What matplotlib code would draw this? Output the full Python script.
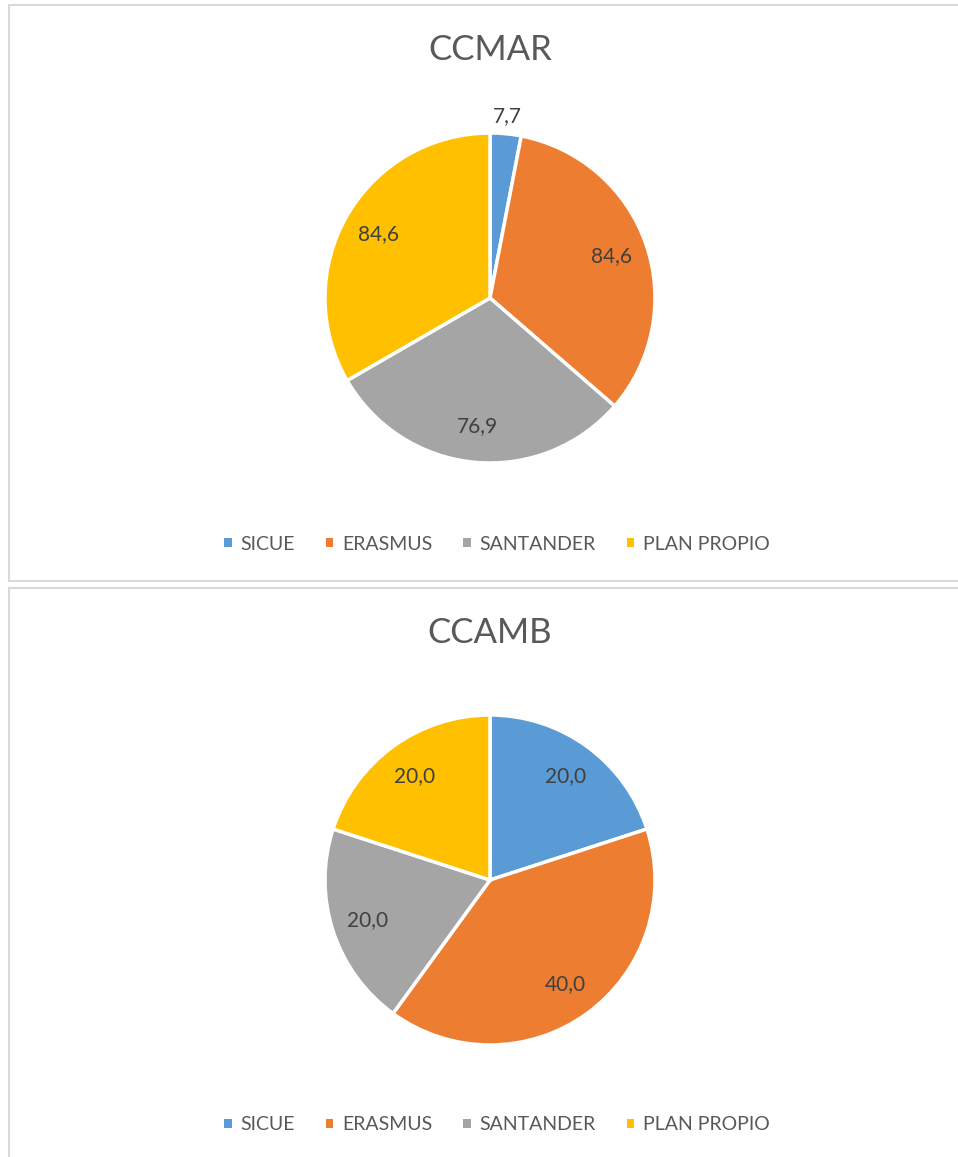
import matplotlib.pyplot as plt
import numpy as np
from matplotlib.patches import Rectangle, Patch

plt.rcParams['font.family'] = ['Lato', 'DejaVu Sans']

categories = ['SICUE', 'ERASMUS', 'SANTANDER', 'PLAN PROPIO']
ccmar_values = [7.7, 84.6, 76.9, 84.6]
ccamb_values = [20.0, 40.0, 20.0, 20.0]
colors = ['#5B9BD5', '#ED7D31', '#A5A5A5', '#FFC000']
text_color = '#595959'
label_color = '#404040'

W, H = 958, 1157
fig = plt.figure(figsize=(W / 100, H / 100), dpi=100)

# panel frames (behind the pies)
fig.add_artist(Rectangle((9 / W, 1 - 581 / H), 1.0, 576 / H, transform=fig.transFigure,
                         facecolor='white', edgecolor='#D9D9D9', lw=1.5, zorder=-10))
fig.add_artist(Rectangle((9 / W, -0.01), 1.0, 1 - 588 / H + 0.01, transform=fig.transFigure,
                         facecolor='white', edgecolor='#D9D9D9', lw=1.5, zorder=-10))


def draw_pie(values, title, cy, title_y, legend_y, outside=()):
    r = 165
    ax = fig.add_axes([(490 - r) / W, (H - cy - r) / H, 2 * r / W, 2 * r / H])
    ax.patch.set_alpha(0)
    wedges, _ = ax.pie(values, colors=colors, startangle=90, counterclock=False,
                       radius=1, wedgeprops=dict(edgecolor='white', linewidth=2.5))
    ax.set_xlim(-1, 1)
    ax.set_ylim(-1, 1)
    ax.set_aspect('equal')
    ax.axis('off')
    for i, (w, v) in enumerate(zip(wedges, values)):
        ang = np.deg2rad((w.theta1 + w.theta2) / 2)
        d = 1.11 if i in outside else 0.78
        ax.text(d * np.cos(ang), d * np.sin(ang), f'{v:.1f}'.replace('.', ','),
                ha='center', va='center', fontsize=15, color=label_color, clip_on=False)
    fig.text(490 / W, 1 - title_y / H, title, ha='center', va='center',
             fontsize=25, color=text_color)
    handles = [Patch(facecolor=c, edgecolor='none') for c in colors]
    fig.legend(handles, categories, loc='center', bbox_to_anchor=(497 / W, 1 - legend_y / H),
               ncol=4, frameon=False, fontsize=14, labelcolor=text_color,
               handlelength=0.38, handleheight=0.38, handletextpad=0.45, columnspacing=1.6)


draw_pie(ccmar_values, 'CCMAR', 298, 50, 544, outside=(0,))
draw_pie(ccamb_values, 'CCAMB', 880, 633, 1125)

fig.savefig('out.png', dpi=100)
